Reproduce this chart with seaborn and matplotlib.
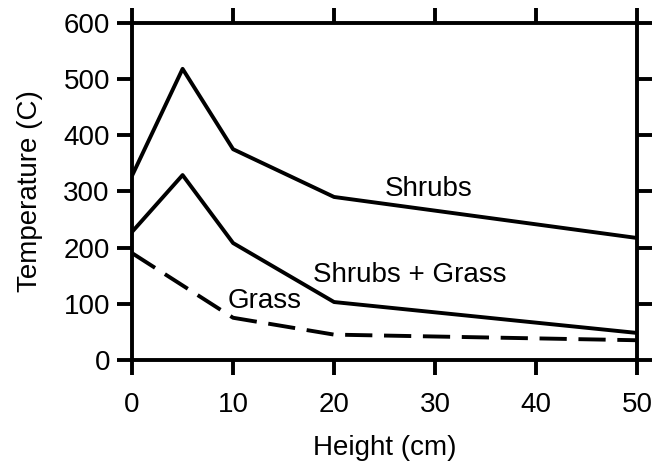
import matplotlib
matplotlib.use("Agg")
import matplotlib.pyplot as plt
import seaborn as sns
import pandas as pd

# Heights above ground (cm) and peak temperatures (C)
heights_shrubs = [0, 5, 10, 20, 50]
temp_shrubs = [328, 518, 375, 290, 217]

heights_mixed = [0, 5, 10, 20, 50]
temp_mixed = [228, 329, 208, 103, 48]

heights_grass = [0, 10, 20, 50]
temp_grass = [190, 75, 45, 35]

x_ticks = [0, 10, 20, 30, 40, 50]
y_ticks = [0, 100, 200, 300, 400, 500, 600]

sns.set_theme(style="ticks")
plt.rcParams["font.family"] = ["Liberation Sans", "DejaVu Sans"]
plt.rcParams["text.color"] = "black"
plt.rcParams["axes.labelcolor"] = "black"

LW = 2.8
FS = 20

fig = plt.figure(figsize=(6.54, 4.65), dpi=100)
ax = fig.add_axes([0.202, 0.226, 0.772, 0.725])

df_s = pd.DataFrame({"h": heights_shrubs, "t": temp_shrubs})
df_m = pd.DataFrame({"h": heights_mixed, "t": temp_mixed})
df_g = pd.DataFrame({"h": heights_grass, "t": temp_grass})

sns.lineplot(data=df_s, x="h", y="t", ax=ax, color="black", lw=LW)
sns.lineplot(data=df_m, x="h", y="t", ax=ax, color="black", lw=LW)
sns.lineplot(data=df_g, x="h", y="t", ax=ax, color="black", lw=LW)
ax.lines[-1].set_linestyle((0, (7, 3)))

ax.text(25.0, 292, "Shrubs", fontsize=FS, ha="left", va="baseline")
ax.text(17.9, 139, "Shrubs + Grass", fontsize=FS, ha="left", va="baseline")
ax.text(9.5, 93, "Grass", fontsize=FS, ha="left", va="baseline")

ax.set_xlim(0, 50)
ax.set_ylim(0, 600)
ax.set_xticks(x_ticks)
ax.set_yticks(y_ticks)
ax.set_xlabel("Height (cm)", fontsize=FS, labelpad=12)
ax.set_ylabel("Temperature (C)", fontsize=FS, labelpad=15)

for side in ["left", "right", "top", "bottom"]:
    ax.spines[side].set_visible(True)
    ax.spines[side].set_linewidth(LW)
    ax.spines[side].set_color("black")

ax.tick_params(axis="both", which="major", direction="out", length=11, width=LW,
               labelsize=FS, colors="black",
               top=True, right=True, labeltop=False, labelright=False)
ax.tick_params(axis="x", pad=12)
ax.tick_params(axis="y", pad=5)

fig.savefig("out.png", dpi=100, facecolor="white")
